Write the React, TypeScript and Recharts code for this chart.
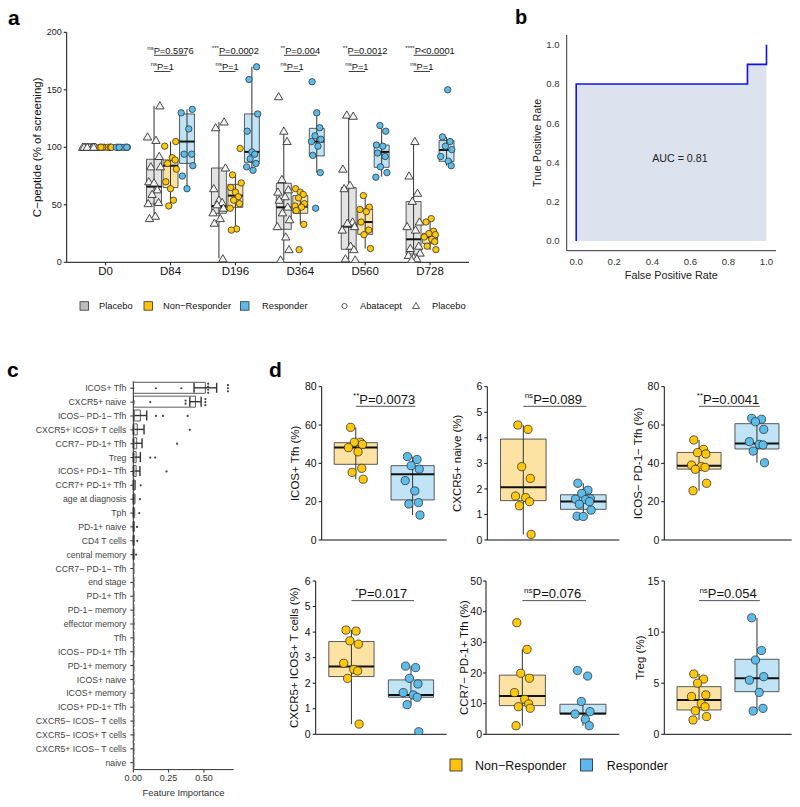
import React from "react";
import {
  ComposedChart,
  XAxis,
  YAxis,
  Scatter,
  ReferenceArea,
  ReferenceLine,
  Area,
  Bar,
  ErrorBar,
} from "recharts";

const FONT = "'Liberation Sans', Arial, Helvetica, sans-serif";

// ---------------- Panel a data ----------------
const DAYS = ["D0", "D84", "D196", "D364", "D560", "D728"];
const A_PLACEBO = [
  [100, 100, 100, 100, 100, 100, 100, 100, 100, 100, 100, 100, 100, 100],
  [136, 109, 106, 92, 83, 83, 70, 69, 63, 59, 52, 51, 40, 38],
  [122, 117, 82, 64, 54, 52, 50, 47, 43, 38, 34, 3],
  [144, 114, 105, 72, 63, 61, 57, 54, 48, 43, 37, 31, 22, 11, 2],
  [128, 127, 81, 67, 64, 35, 34, 31, 28, 14, 11, 3, 2],
  [105, 75, 60, 53, 35, 31, 28, 14, 12, 8, 6, 4, 3, 2],
];
const A_NONRESP = [
  [100, 100, 100, 100, 100, 100, 100, 100, 100, 100],
  [105, 101, 91, 89, 86, 81, 70, 64, 54, 49],
  [99, 76, 69, 65, 61, 57, 54, 51, 47, 29, 28],
  [64, 61, 59, 56, 51, 49, 48, 45, 33, 11],
  [58, 48, 46, 44, 35, 28, 24, 12],
  [38, 35, 27, 25, 24, 22, 20, 18, 14, 11],
];
const A_RESP = [
  [100, 100, 100, 100, 100, 100, 100, 100],
  [133, 130, 116, 94, 94, 84, 75, 64],
  [170, 159, 129, 114, 96, 94, 90, 86, 83, 80],
  [157, 130, 117, 110, 107, 105, 101, 93, 78, 47],
  [119, 114, 102, 101, 95, 92, 83, 78, 74],
  [150, 109, 105, 101, 98, 92, 88, 84],
];
// box stats: [q1, median, q3, lower whisker, upper whisker]
const A_PLACEBO_STATS = [
  [100, 100, 100, 100, 100],
  [50.7, 65.8, 89.6, 38, 136],
  [42.6, 49, 82, 3.5, 122],
  [28.7, 47.8, 68.7, 2, 113.6],
  [11.3, 31, 65, 2.6, 128],
  [7.2, 20, 52.8, 2, 105],
];
const A_NONRESP_STATS = [
  [100, 100, 100, 100, 100],
  [65, 84, 89, 49, 105],
  [47.8, 58, 67.8, 28, 76],
  [42.6, 48.4, 58, 33, 63.5],
  [24.3, 35, 46.4, 12, 58],
  [16.5, 21.7, 25.2, 10.7, 38],
];
const A_RESP_STATS = [
  [100, 100, 100, 100, 100],
  [86, 105, 129, 64, 133],
  [87, 96, 129, 80, 170],
  [92.5, 105, 116.5, 78, 130],
  [82.6, 96, 102, 74.5, 119.4],
  [87.8, 97.7, 105.8, 84, 109],
];
const A_SIG1_STARS = ["", "ns", "***", "**", "**", "****"];
const A_SIG1_TEXT = ["", "P=0.5976", "P=0.0002", "P=0.004", "P=0.0012", "P<0.0001"];
const A_SIG2_STARS = ["", "ns", "ns", "ns", "ns", "ns"];
const A_SIG2_TEXT = ["", "P=1", "P=1", "P=1", "P=1", "P=1"];
const A_YTICKS = [0, 50, 100, 150, 200];

// ---------------- Panel b data ----------------
const ROC_FPR = [0, 0, 0.9, 0.9, 1, 1];
const ROC_TPR = [0, 0.8, 0.8, 0.9, 0.9, 1];
const B_TICKS = [0, 0.2, 0.4, 0.6, 0.8, 1.0];

// ---------------- Panel c data ----------------
const C_FEATURES = [
  "ICOS+ Tfh",
  "CXCR5+ naive",
  "ICOS\u2212 PD-1\u2212 Tfh",
  "CXCR5+ ICOS+ T cells",
  "CCR7\u2212 PD-1+ Tfh",
  "Treg",
  "ICOS+ PD-1\u2212 Tfh",
  "CCR7+ PD-1+ Tfh",
  "age at diagnosis",
  "Tph",
  "PD-1+ naive",
  "CD4 T cells",
  "central memory",
  "CCR7\u2212 PD-1\u2212 Tfh",
  "end stage",
  "PD-1+ Tfh",
  "PD-1\u2212 memory",
  "effector memory",
  "Tfh",
  "ICOS\u2212 PD-1+ Tfh",
  "PD-1+ memory",
  "ICOS+ naive",
  "ICOS+ memory",
  "ICOS+ PD-1+ Tfh",
  "CXCR5\u2212 ICOS\u2212 T cells",
  "CXCR5\u2212 ICOS+ T cells",
  "CXCR5+ ICOS\u2212 T cells",
  "naive",
];
const C_MEAN = [0.51, 0.44, 0.05, 0.028, 0.024, 0.02, 0.02, 0.006, 0.005, 0.004, 0.003, 0.003, 0.002, 0, 0, 0, 0, 0, 0, 0, 0, 0, 0, 0, 0, 0, 0, 0];
const C_ERR = [0.08, 0.04, 0.045, 0.048, 0.038, 0.03, 0.027, 0.006, 0.005, 0.004, 0.003, 0.003, 0.002, 0, 0, 0, 0, 0, 0, 0, 0, 0, 0, 0, 0, 0, 0, 0];
const C_DOT_VALUES = [
  [0.16, 0.34, 0.53, 0.53, 0.53, 0.53, 0.67, 0.67, 0.67],
  [0.12, 0.37, 0.37, 0.51, 0.51, 0.51],
  [0.16, 0.21, 0.385],
  [0.4],
  [0.31],
  [0.12, 0.155],
  [0.235],
  [0.052],
  [0.047],
  [0.042],
  [0.026],
  [0.028],
  [0.02],
  [], [], [], [], [], [], [], [], [], [], [], [], [], [], [],
];
const C_ZERO_COUNTS = [1, 4, 7, 9, 9, 8, 9, 9, 9, 9, 9, 9, 9, 10, 10, 10, 10, 10, 10, 10, 10, 10, 10, 10, 10, 10, 10, 10];
const C_XTICKS = [0, 0.25, 0.5];

// ---------------- Panel d data ----------------
const D1_NR = [58.8, 51, 51, 49.9, 48.2, 46, 37.4, 35.3, 31.7];
const D1_R = [43.5, 42, 38.8, 37, 31, 25.6, 19.5, 18.8, 13];
const D1_NR_STATS = [39.5, 48.3, 50.8, 31.7, 58.8];
const D1_R_STATS = [20.9, 34.3, 38.8, 13, 43.5];
const D2_NR = [4.5, 4.33, 2.87, 2.41, 1.72, 1.66, 1.5, 1.34, 0.22];
const D2_R = [2.22, 1.95, 1.82, 1.62, 1.6, 1.58, 1.5, 1.4, 1.17, 0.93, 0.92];
const D2_NR_STATS = [1.54, 2.06, 3.95, 0.22, 4.5];
const D2_R_STATS = [1.2, 1.51, 1.77, 0.92, 2.22];
const D3_NR = [52.2, 47.3, 45.6, 44.9, 39.1, 38.3, 37.9, 36.9, 29.6, 25.7];
const D3_R = [63.5, 63, 61.7, 57.7, 51.3, 49.9, 49.6, 46.4, 40.3];
const D3_NR_STATS = [37, 38.8, 45.7, 25.7, 52.2];
const D3_R_STATS = [47.5, 50.4, 60.7, 40.3, 63.5];
const D4_NR = [4.08, 4.04, 3.66, 3.53, 2.78, 2.54, 2.48, 2.19, 0.4];
const D4_R = [2.67, 2.61, 2.19, 1.97, 1.63, 1.54, 1.45, 1.16, 0.1];
const D4_NR_STATS = [2.26, 2.65, 3.63, 0.4, 4.08];
const D4_R_STATS = [1.45, 1.54, 2.13, 1.16, 2.67];
const D5_NR = [36.4, 27.7, 19.9, 18.3, 13.6, 11.4, 9.9, 9, 8.5, 2.8];
const D5_R = [20.8, 19, 10.7, 7.4, 6.6, 4.9, 2.8];
const D5_NR_STATS = [9.35, 12.5, 19.3, 2.8, 27.7];
const D5_R_STATS = [6.6, 6.8, 9.8, 2.8, 10.7];
const D6_NR = [5.9, 5.4, 5.0, 3.85, 3.7, 3.0, 2.7, 2.3, 1.73, 1.4];
const D6_R = [11.4, 8.2, 7.27, 5.64, 5.3, 4.1, 2.54, 2.28];
const D6_NR_STATS = [2.38, 3.36, 4.66, 1.4, 5.9];
const D6_R_STATS = [4.17, 5.48, 7.34, 2.28, 11.4];
const D_TITLES = [
  "ICOS+ Tfh (%)",
  "CXCR5+ naive (%)",
  "ICOS\u2212 PD-1\u2212 Tfh (%)",
  "CXCR5+ ICOS+ T cells (%)",
  "CCR7\u2212 PD-1+ Tfh (%)",
  "Treg (%)",
];
const D_STARS = ["**", "ns", "**", "*", "ns", "ns"];
const D_PTEXT = ["P=0.0073", "P=0.089", "P=0.0041", "P=0.017", "P=0.076", "P=0.054"];
const D_YMAX = [80, 6, 80, 6, 50, 15];
const D_TICKS = [
  [0, 20, 40, 60, 80],
  [0, 1, 2, 3, 4, 5, 6],
  [0, 20, 40, 60, 80],
  [0, 1, 2, 3, 4, 5, 6],
  [0, 10, 20, 30, 40, 50],
  [0, 5, 10, 15],
];

// ---------------- styles ----------------
const JITTER = [-0.07, 0.06, -0.02, 0.09, -0.1, 0.03, 0.08, -0.05, 0.1, -0.08, 0.0, 0.05, -0.03, 0.07, -0.09, 0.02];
const C_PLACEBO_BOX = "#E3E3E3";
const C_NR_BOX = "#FDE3A3";
const C_R_BOX = "#C0E3F6";
const C_NR_PT = "#FFC80A";
const C_R_PT = "#5CBDEB";
const STROKE = "#333";

function jitterPoints(groups: number[][], offset: number, scale: number) {
  const out: { x: number; y: number }[] = [];
  groups.forEach((vals, d) =>
    vals.forEach((v, i) => out.push({ x: d + 1 + offset + JITTER[(i + d * 3) % JITTER.length] * scale, y: v }))
  );
  return out;
}

const triShape = (p: any) => {
  const { cx, cy } = p;
  if (cx == null || cy == null) return <g />;
  const s = 4.2;
  return (
    <path
      d={`M${cx},${cy - s} L${cx + s},${cy + s * 0.72} L${cx - s},${cy + s * 0.72} Z`}
      fill="#F4F4F4"
      stroke={STROKE}
      strokeWidth={0.9}
    />
  );
};
const circleShape = (fill: string, r: number) => (p: any) => {
  const { cx, cy } = p;
  if (cx == null || cy == null) return <g />;
  return <circle cx={cx} cy={cy} r={r} fill={fill} stroke={STROKE} strokeWidth={0.8} />;
};
const annotShape = (fs: number, sfs: number) => (p: any) => {
  const { cx, cy, payload } = p;
  if (cx == null || cy == null) return <g />;
  const up = fs * 0.4;
  return (
    <text x={cx} y={cy} textAnchor="middle" fontSize={fs} fill="#111" fontFamily={FONT}>
      <tspan fontSize={sfs} dy={-up}>
        {payload.sup}
      </tspan>
      <tspan dy={up}>{payload.txt}</tspan>
    </text>
  );
};

// rotated axis title drawn in the middle of the axis box
const rotTitle = (value: string, fs: number, fill: string) => (p: any) => {
  const vb = p.viewBox || {};
  if (vb.x == null) return null;
  const x = vb.x + vb.width / 2;
  const y = vb.y + vb.height / 2;
  return (
    <text x={x} y={y} textAnchor="middle" dy="0.35em" fontSize={fs} fill={fill} fontFamily={FONT} transform={`rotate(-90, ${x}, ${y})`}>
      {value}
    </text>
  );
};

function boxEls(key: string, xc: number, hw: number, s: number[], fill: string) {
  const [q1, med, q3, lo, hi] = s;
  return [
    <ReferenceLine key={key + "w"} segment={[{ x: xc, y: lo }, { x: xc, y: hi }]} stroke={STROKE} strokeWidth={1} ifOverflow="visible" />,
    <ReferenceArea key={key + "b"} x1={xc - hw} x2={xc + hw} y1={q1} y2={q3} fill={fill} fillOpacity={1} stroke={STROKE} strokeWidth={0.8} ifOverflow="visible" />,
    <ReferenceLine key={key + "m"} segment={[{ x: xc - hw, y: med }, { x: xc + hw, y: med }]} stroke="#111" strokeWidth={2} ifOverflow="visible" />,
  ];
}

// ---------------- Panel a ----------------
const OFF = 0.254;
const HW_A = 0.115;
const SIG1_BASE = 181.4;
const SIG1_LINE = 180.0;
const SIG2_BASE = 167.2;
const SIG2_LINE = 165.9;

function PanelA() {
  const plac = jitterPoints(A_PLACEBO, -OFF, 1);
  const nr = jitterPoints(A_NONRESP, 0, 0.9);
  const r = jitterPoints(A_RESP, OFF, 0.9);
  const ann: any[] = [];
  DAYS.forEach((_, d) => {
    if (A_SIG1_TEXT[d]) {
      ann.push({ x: d + 1, y: SIG1_BASE, sup: A_SIG1_STARS[d], txt: A_SIG1_TEXT[d] });
      ann.push({ x: d + 1 - OFF / 2, y: SIG2_BASE, sup: A_SIG2_STARS[d], txt: A_SIG2_TEXT[d] });
    }
  });
  const boxes: any[] = [];
  DAYS.forEach((_, d) => {
    boxes.push(...boxEls("p" + d, d + 1 - OFF, HW_A, A_PLACEBO_STATS[d], C_PLACEBO_BOX));
    boxes.push(...boxEls("n" + d, d + 1, HW_A, A_NONRESP_STATS[d], C_NR_BOX));
    boxes.push(...boxEls("r" + d, d + 1 + OFF, HW_A, A_RESP_STATS[d], C_R_BOX));
  });
  const lines: any[] = [];
  DAYS.forEach((_, d) => {
    if (A_SIG1_TEXT[d]) {
      lines.push(<ReferenceLine key={"s1" + d} segment={[{ x: d + 1 - OFF, y: SIG1_LINE }, { x: d + 1 + OFF, y: SIG1_LINE }]} stroke="#111" strokeWidth={0.8} />);
      lines.push(<ReferenceLine key={"s2" + d} segment={[{ x: d + 1 - OFF, y: SIG2_LINE }, { x: d + 1, y: SIG2_LINE }]} stroke="#111" strokeWidth={0.8} />);
    }
  });
  return (
    <div style={{ position: "absolute", left: 0, top: 0 }}>
      <ComposedChart width={480} height={290} margin={{ top: 32.3, right: 11, bottom: 7.7, left: 7.3 }}>
        <XAxis
          type="number"
          dataKey="x"
          domain={[0.4, 6.6]}
          allowDataOverflow
          ticks={[1, 2, 3, 4, 5, 6]}
          interval={0}
          tickFormatter={(v: number) => DAYS[Math.round(v) - 1]}
          height={20}
          tickSize={3}
          tickMargin={2}
          stroke="#111"
          tick={{ fontSize: 11.5, fill: "#111" }}
        />
        <YAxis
          type="number"
          dataKey="y"
          domain={[0, 200]}
          allowDataOverflow
          ticks={A_YTICKS}
          interval={0}
          width={59.4}
          tickSize={3}
          tickMargin={2}
          stroke="#111"
          tick={{ fontSize: 9, fill: "#222" }}
          label={{ content: rotTitle("C\u2212peptide (% of screening)", 11.5, "#111") }}
        />
        {boxes}
        {lines}
        <Scatter data={plac} shape={triShape} isAnimationActive={false} />
        <Scatter data={nr} shape={circleShape(C_NR_PT, 3.2)} isAnimationActive={false} />
        <Scatter data={r} shape={circleShape(C_R_PT, 3.2)} isAnimationActive={false} />
        <Scatter data={ann} shape={annotShape(9.3, 6)} isAnimationActive={false} />
      </ComposedChart>
    </div>
  );
}

// ---------------- Panel b ----------------
function PanelB() {
  const data = ROC_FPR.map((f, i) => ({ fpr: f, tpr: ROC_TPR[i] }));
  const auc = [{ fpr: 0.545, tpr: 0.42, label: "AUC = 0.81" }];
  const aucShape = (p: any) => (
    <text x={p.cx} y={p.cy} textAnchor="middle" dy="0.35em" fontSize={10.7} fill="#222" fontFamily={FONT}>
      {p.payload.label}
    </text>
  );
  return (
    <div style={{ position: "absolute", left: 500, top: 0 }}>
      <ComposedChart width={290} height={290} data={data} margin={{ top: 35, right: 14, bottom: 11.3, left: 7.3 }}>
        <XAxis
          type="number"
          dataKey="fpr"
          domain={[-0.05, 1.05]}
          allowDataOverflow
          ticks={B_TICKS}
          interval={0}
          tickFormatter={(v: number) => v.toFixed(1)}
          height={28}
          tickLine={false}
          tickSize={5}
          tickMargin={2}
          stroke="#333"
          tick={{ fontSize: 9.6, fill: "#333" }}
          label={{ value: "False Positive Rate", position: "insideBottom", offset: 0, fontSize: 10.8, fill: "#222" }}
        />
        <YAxis
          type="number"
          dataKey="tpr"
          domain={[-0.05, 1.05]}
          allowDataOverflow
          ticks={B_TICKS}
          interval={0}
          tickFormatter={(v: number) => v.toFixed(1)}
          width={59.4}
          tickLine={false}
          tickSize={5}
          tickMargin={2}
          stroke="#333"
          tick={{ fontSize: 9.6, fill: "#333" }}
          label={{ content: rotTitle("True Positive Rate", 10.8, "#222") }}
        />
        <Area type="linear" dataKey="tpr" stroke="#1010F0" strokeWidth={1.6} fill="#DCE2EE" fillOpacity={1} isAnimationActive={false} dot={false} activeDot={false} />
        <Scatter data={auc} shape={aucShape} isAnimationActive={false} />
      </ComposedChart>
    </div>
  );
}

// ---------------- Panel c ----------------
const CatTick = (p: any) => (
  <text x={p.x} y={p.y} dy="0.35em" textAnchor="end" fontSize={8.7} fill="#444" fontFamily={FONT}>
    {p.payload.value}
  </text>
);

function PanelC() {
  const table = C_FEATURES.map((name, i) => ({
    name,
    mean: C_MEAN[i],
    err: [Math.min(C_MEAN[i], C_ERR[i]), C_ERR[i]],
  }));
  const dots: { v: number; row: number; z: number }[] = [];
  C_DOT_VALUES.forEach((vals, row) => {
    const counts: Record<string, number> = {};
    vals.forEach((v) => (counts[v] = (counts[v] || 0) + 1));
    const seen: Record<string, number> = {};
    vals.forEach((v) => {
      const m = counts[v];
      const k = seen[v] || 0;
      seen[v] = k + 1;
      dots.push({ v, row: row + (k - (m - 1) / 2) * 0.22, z: 0 });
    });
    const zc = C_ZERO_COUNTS[row];
    for (let k = 0; k < zc; k++) dots.push({ v: 0.009, row: row + (k - (zc - 1) / 2) * 0.085, z: 1 });
  });
  const dotShape = (p: any) => {
    if (p.cx == null) return <g />;
    return <circle cx={p.cx} cy={p.cy} r={p.payload.z ? 0.55 : 1.1} fill={p.payload.z ? "#888" : "#444"} />;
  };
  return (
    <div style={{ position: "absolute", left: 0, top: 370 }}>
      <ComposedChart layout="vertical" width={240} height={437} data={table} margin={{ top: 11.3, right: 6.4, bottom: 7.4, left: 0 }}>
        <XAxis
          type="number"
          dataKey="v"
          domain={[0, 0.71]}
          allowDataOverflow
          ticks={C_XTICKS}
          interval={0}
          tickFormatter={(v: number) => v.toFixed(2)}
          height={30}
          tickSize={3}
          tickMargin={2}
          stroke="#333"
          tick={{ fontSize: 9, fill: "#333" }}
          label={{ value: "Feature Importance", position: "insideBottom", offset: 4, fontSize: 9.4, fill: "#333" }}
        />
        <YAxis type="category" dataKey="name" width={133.3} interval={0} tickSize={3} tickMargin={4} stroke="#333" tick={CatTick} />
        <YAxis yAxisId="num" type="number" dataKey="row" domain={[-0.5, 27.5]} allowDataOverflow hide />
        <Bar dataKey="mean" fill="#FFFFFF" stroke="#333" strokeWidth={0.8} barSize={11} isAnimationActive={false}>
          <ErrorBar dataKey="err" direction="x" width={5} stroke="#333" strokeWidth={1.4} />
        </Bar>
        <Scatter data={dots} yAxisId="num" shape={dotShape} isAnimationActive={false} />
      </ComposedChart>
    </div>
  );
}

// ---------------- Panel d ----------------
const HW_D = 0.38;
function DPanel(props: {
  idx: number;
  left: number;
  top: number;
  width: number;
  height: number;
  margin: { top: number; right: number; bottom: number; left: number };
  yw: number;
  tm?: number;
  nr: number[];
  r: number[];
  nrStats: number[];
  rStats: number[];
}) {
  const { idx, left, top, width, height, margin, yw, nr, r, nrStats, rStats } = props;
  const tm = props.tm ?? 2;
  const ymax = D_YMAX[idx];
  const nrPts = jitterPoints([nr], 0, 1.3);
  const rPts = jitterPoints([r], 1, 1.3);
  const ann = [{ x: 1.5, y: ymax * 0.89, sup: D_STARS[idx], txt: D_PTEXT[idx] }];
  return (
    <div style={{ position: "absolute", left, top }}>
      <ComposedChart width={width} height={height} margin={margin}>
        <XAxis type="number" dataKey="x" domain={[0.4, 2.6]} allowDataOverflow height={10} tick={false} tickLine={false} stroke="#111" />
        <YAxis
          type="number"
          dataKey="y"
          domain={[0, ymax]}
          allowDataOverflow
          ticks={D_TICKS[idx]}
          interval={0}
          width={yw}
          tickSize={3}
          tickMargin={tm}
          stroke="#111"
          tick={{ fontSize: 10.5, fill: "#111" }}
          label={{ content: rotTitle(D_TITLES[idx], 11.5, "#111") }}
        />
        {boxEls("n", 1, HW_D, nrStats, C_NR_BOX)}
        {boxEls("r", 2, HW_D, rStats, C_R_BOX)}
        <ReferenceLine segment={[{ x: 1, y: ymax * 0.872 }, { x: 2.05, y: ymax * 0.872 }]} stroke="#555" strokeWidth={1} />
        <Scatter data={nrPts} shape={circleShape(C_NR_PT, 4.1)} isAnimationActive={false} />
        <Scatter data={rPts} shape={circleShape(C_R_PT, 4.1)} isAnimationActive={false} />
        <Scatter data={ann} shape={annotShape(13, 8)} isAnimationActive={false} />
      </ComposedChart>
    </div>
  );
}

function Overlay() {
  return (
    <svg width={800} height={807} style={{ position: "absolute", left: 0, top: 0, pointerEvents: "none" }} fontFamily={FONT}>
      <text x={8} y={24.5} fontSize={21} fontWeight="bold" fill="#000">a</text>
      <text x={515} y={24} fontSize={20} fontWeight="bold" fill="#000">b</text>
      <text x={7} y={377} fontSize={21} fontWeight="bold" fill="#000">c</text>
      <text x={269} y={377} fontSize={21} fontWeight="bold" fill="#000">d</text>
      {/* legend a */}
      <rect x={80} y={301.7} width={8.5} height={8.5} fill="#BDBDBD" stroke="#333" strokeWidth={0.8} />
      <text x={99} y={309.2} fontSize={9.3} fill="#111">Placebo</text>
      <rect x={144} y={301.7} width={8.5} height={8.5} fill="#FFC20E" stroke="#333" strokeWidth={0.8} />
      <text x={163} y={309.2} fontSize={9.3} fill="#111">Non{"\u2212"}Responder</text>
      <rect x={240.5} y={301.7} width={8.5} height={8.5} fill="#5CB8EE" stroke="#333" strokeWidth={0.8} />
      <text x={262} y={309.2} fontSize={9.3} fill="#111">Responder</text>
      <circle cx={344.5} cy={306} r={2.6} fill="#fff" stroke="#333" strokeWidth={0.8} />
      <text x={360} y={309.2} fontSize={9.3} fill="#111">Abatacept</text>
      <path d="M416,302.5 L419.5,308.5 L412.5,308.5 Z" fill="#fff" stroke="#333" strokeWidth={0.8} />
      <text x={432} y={309.2} fontSize={9.3} fill="#111">Placebo</text>
      {/* legend d */}
      <rect x={450} y={759} width={12} height={12} fill="#FFC20E" stroke="#333" strokeWidth={0.9} />
      <text x={475} y={769.5} fontSize={12.5} fill="#111">Non{"\u2212"}Responder</text>
      <rect x={580.5} y={759} width={12} height={12} fill="#5CB8EE" stroke="#333" strokeWidth={0.9} />
      <text x={606.7} y={769.5} fontSize={12.5} fill="#111">Responder</text>
    </svg>
  );
}

export default function App() {
  return (
    <div style={{ position: "absolute", left: 0, top: 0, width: 800, height: 807, background: "#fff", fontFamily: FONT }}>
      <PanelA />
      <PanelB />
      <PanelC />
      <DPanel idx={0} left={260} top={376} width={195} height={180} margin={{ top: 10.7, right: 8.3, bottom: 6, left: 8.3 }} yw={53.4} nr={D1_NR} r={D1_R} nrStats={D1_NR_STATS} rStats={D1_R_STATS} />
      <DPanel idx={1} left={420} top={376} width={205} height={180} margin={{ top: 10.7, right: 5.7, bottom: 6, left: 6.1 }} yw={61.2} nr={D2_NR} r={D2_R} nrStats={D2_NR_STATS} rStats={D2_R_STATS} />
      <DPanel idx={2} left={605} top={376} width={195} height={180} margin={{ top: 10.7, right: 8.3, bottom: 6, left: 6.7 }} yw={52.6} nr={D3_NR} r={D3_R} nrStats={D3_NR_STATS} rStats={D3_R_STATS} />
      <DPanel idx={3} left={265} top={570} width={190} height={180} margin={{ top: 11, right: 8.3, bottom: 5.7, left: 7.3 }} yw={43.4} nr={D4_NR} r={D4_R} nrStats={D4_NR_STATS} rStats={D4_R_STATS} />
      <DPanel idx={4} left={440} top={570} width={185} height={180} margin={{ top: 11, right: 5.7, bottom: 5.7, left: 1 }} yw={45} tm={1} nr={D5_NR} r={D5_R} nrStats={D5_NR_STATS} rStats={D5_R_STATS} />
      <DPanel idx={5} left={610} top={570} width={190} height={180} margin={{ top: 11, right: 8.3, bottom: 5.7, left: 5.7 }} yw={48.6} nr={D6_NR} r={D6_R} nrStats={D6_NR_STATS} rStats={D6_R_STATS} />
      <Overlay />
    </div>
  );
}
